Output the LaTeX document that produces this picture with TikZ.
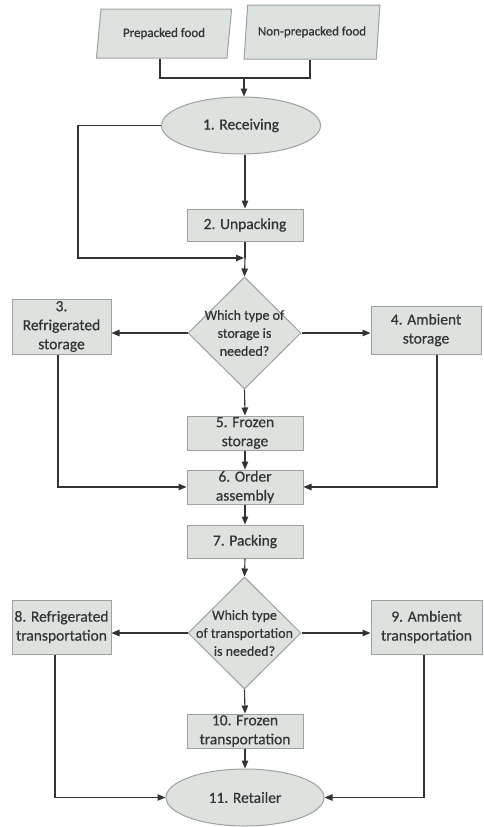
\documentclass[tikz,border=0pt]{standalone}
\usepackage{fontspec}
\setmainfont{Carlito}
\newfontfamily\labelfont{Carlito}[FakeBold=0.5]
\usetikzlibrary{shapes.geometric,arrows.meta,calc}
\definecolor{boxfill}{HTML}{DEE2DF}
\definecolor{boxline}{HTML}{9DA29E}
\definecolor{ink}{HTML}{333333}
\definecolor{wire}{HTML}{333333}
\begin{document}
\begin{tikzpicture}[x=1pt,y=-1pt,
  base/.style={draw=boxline,fill=boxfill,line width=1pt,text=ink,inner sep=0pt,align=center,
               font=\labelfont\fontsize{15.5}{19}\selectfont},
  stepbox/.style={base,rectangle},
  oval/.style={base,ellipse},
  choice/.style={base,diamond,minimum width=113,minimum height=112},
  inputbox/.style={base,trapezium,trapezium left angle=75,trapezium right angle=105,
                   trapezium stretches=true,font=\labelfont\fontsize{13}{15}\selectfont},
  qtext/.style={text=ink,align=center,font=\labelfont\fontsize{14}{18}\selectfont},
  flow/.style={draw=wire,line width=1.1pt,-{Triangle[length=8pt,width=6.5pt]}},
  link/.style={draw=wire,line width=1.1pt}]
\useasboundingbox (0,0) rectangle (483,827);

% inputs
\node[inputbox,minimum width=136,minimum height=49] (pre) at (164,33.5) {Prepacked food};
\node[inputbox,minimum width=136,minimum height=54] (non) at (312,32) {Non-prepacked food};

% receiving and unpacking
\node[oval,minimum width=159,minimum height=57] (rec) at (241,125.5) {1. Receiving};
\node[stepbox,minimum width=116,minimum height=32] (unp) at (245,225) {2. Unpacking};

% storage decision
\node[choice] (d1) at (244.5,333) {};
\node[qtext] at (d1) {Which type of\\storage is\\needed?};
\node[stepbox,minimum width=99,minimum height=55] (s3) at (61.5,326.5) {3.\\Refrigerated\\storage};
\node[stepbox,minimum width=110,minimum height=48] (s4) at (426,330) {4. Ambient\\storage};
\node[stepbox,minimum width=116,minimum height=34] (s5) at (245,433) {5. Frozen\\storage};
\node[stepbox,minimum width=116,minimum height=34] (s6) at (245,487) {6. Order\\assembly};
\node[stepbox,minimum width=116,minimum height=33] (s7) at (245,541.5) {7. Packing};

% transportation decision
\node[choice] (d2) at (244.5,633) {};
\node[qtext] at (d2) {Which type\\of transportation\\is needed?};
\node[stepbox,minimum width=99,minimum height=54] (t8) at (61.5,627) {8. Refrigerated\\transportation};
\node[stepbox,minimum width=111,minimum height=54] (t9) at (426.5,627) {9. Ambient\\transportation};
\node[stepbox,minimum width=116,minimum height=34] (t10) at (245,731) {10. Frozen\\transportation};
\node[oval,minimum width=158,minimum height=57] (ret) at (245,797.5) {11. Retailer};

% junction points
\coordinate (merge) at (244,78);
\coordinate (join) at (244,258);

% connectors
\draw[link] ([xshift=-4pt]pre.south) |- (merge) -| ([xshift=-2pt]non.south);
\draw[flow] (merge) -- (merge |- rec.north);
\draw[flow] (rec.south -| unp.north) -- (unp.north);
\draw[flow] (rec.west) -| (78,258) -- (join);
\draw[link] (unp.south) -- (unp.south |- join);
\draw[flow] (unp.south |- join) -- (d1.north);

\draw[flow] (d1.west) -- (d1.west -| s3.east);
\draw[flow] (d1.east) -- (d1.east -| s4.west);
\draw[flow] (d1.south) -- (s5.north);
\draw[flow] (s5.south) -- (s6.north);
\draw[flow] ([xshift=-3.5pt]s3.south) |- (s6.west);
\draw[flow] ([xshift=11pt]s4.south) |- (s6.east);
\draw[flow] (s6.south) -- (s7.north);
\draw[flow] (s7.south) -- (d2.north);

\draw[flow] (d2.west) -- (d2.west -| t8.east);
\draw[flow] (d2.east) -- (d2.east -| t9.west);
\draw[flow] (d2.south) -- (t10.north);
\draw[flow] (t10.south) -- (ret.north);
\draw[flow] ([xshift=-6.5pt]t8.south) |- (ret.west);
\draw[flow] ([xshift=-2.5pt]t9.south) |- (ret.east);
\end{tikzpicture}
\end{document}
